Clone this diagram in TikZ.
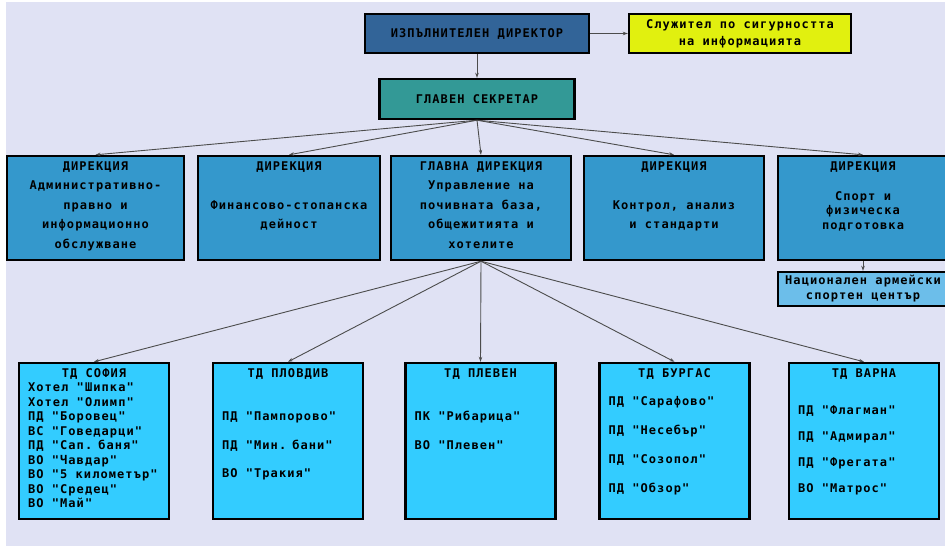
\documentclass[tikz,border=0pt]{standalone}
\usepackage{fontspec}
\newfontfamily\boxfont[LetterSpace=9, WordSpace={1.15,0,0}]{DejaVu Sans Mono}
\usetikzlibrary{arrows.meta}
\definecolor{bgcol}{RGB}{224,226,244}
\definecolor{execcol}{RGB}{50,100,152}
\definecolor{seccol}{RGB}{225,240,15}
\definecolor{secrcol}{RGB}{51,153,150}
\definecolor{dircol}{RGB}{52,152,204}
\definecolor{naccol}{RGB}{108,190,234}
\definecolor{tdcol}{RGB}{51,204,255}

\begin{document}
\begin{tikzpicture}[x=1pt, y=-1pt]
  \tikzset{
    box/.style={draw=black, line width=2.4pt, font=\boxfont\bfseries\fontsize{12}{14.5}\selectfont,
      execute at begin node={\spaceskip=8.3pt\relax}},
    dirbox/.style={box, fill=dircol, align=center, inner xsep=2pt, inner ysep=4pt,
      text height=10pt, text depth=86pt, font=\boxfont\bfseries\fontsize{12}{19.5}\selectfont},
    tdbox/.style={box, fill=tdcol, align=left, text width=132pt, inner xsep=9pt, inner ysep=4pt,
      text height=10pt, text depth=138pt},
    link/.style={->, line width=0.9pt, draw=black!70},
    >={Stealth[length=5pt, width=3.5pt]}
  }

  \useasboundingbox (0,0) rectangle (945,547);
  \fill[bgcol] (6,2) rectangle (945,546);

  % Ръководство
  \node[box, fill=execcol, minimum width=224pt, minimum height=39pt] (exec) at (477,33.5) {ИЗПЪЛНИТЕЛЕН ДИРЕКТОР};
  \node[box, fill=seccol, minimum width=222pt, minimum height=39pt, align=center,
    font=\boxfont\bfseries\fontsize{12}{17}\selectfont] (sec) at (740,33.5) {Служител по сигурността\\на информацията};
  \node[box, fill=secrcol, minimum width=195pt, minimum height=40pt] (secr) at (477,99) {ГЛАВЕН СЕКРЕТАР};

  % Дирекции
  \node[dirbox, text width=173pt] (d1) at (95.5,208) {ДИРЕКЦИЯ\\Административно-\\правно и\\информационно\\обслужване};
  \node[dirbox, text width=178pt] (d2) at (289,208) {ДИРЕКЦИЯ\\[19.5pt]Финансово-стопанска\\дейност};
  \node[dirbox, text width=176pt] (d3) at (481,208) {ГЛАВНА ДИРЕКЦИЯ\\Управление на\\почивната база,\\общежитията и\\хотелите};
  \node[dirbox, text width=176pt] (d4) at (674,208) {ДИРЕКЦИЯ\\[19.5pt]Контрол, анализ\\и стандарти};
  \node[dirbox, text width=166pt, font=\boxfont\bfseries\fontsize{12}{14.5}\selectfont] (d5) at (863,208) {ДИРЕКЦИЯ\\[15.5pt]Спорт и\\физическа\\подготовка};
  \node[box, fill=naccol, minimum width=170pt, minimum height=34pt, align=center,
    font=\boxfont\bfseries\fontsize{12}{15}\selectfont] (nac) at (863,289) {Национален армейски\\спортен център};

  % Териториални дирекции
  \node[tdbox] (td1) at (94,441) {\makebox[\linewidth]{ТД СОФИЯ}\\Хотел "Шипка"\\Хотел "Олимп"\\ПД "Боровец"\\ВС "Говедарци"\\ПД "Сап. баня"\\ВО "Чавдар"\\\mbox{ВО "5 километър"}\\ВО "Средец"\\ВО "Май"};
  \node[tdbox] (td2) at (288,441) {\makebox[\linewidth]{ТД ПЛОВДИВ}\\[29pt]ПД "Пампорово"\\[14pt]ПД "Мин. бани"\\[14pt]ВО "Тракия"};
  \node[tdbox] (td3) at (480.5,441) {\makebox[\linewidth]{ТД ПЛЕВЕН}\\[29pt]ПК "Рибарица"\\[14pt]ВО "Плевен"};
  \node[tdbox] (td4) at (674.5,441) {\makebox[\linewidth]{ТД БУРГАС}\\[13.5pt]ПД "Сарафово"\\[14.5pt]ПД "Несебър"\\[14.5pt]ПД "Созопол"\\[14.5pt]ПД "Обзор"};
  \node[tdbox] (td5) at (864,441) {\makebox[\linewidth]{ТД ВАРНА}\\[22.5pt]ПД "Флагман"\\[11.5pt]ПД "Адмирал"\\[11.5pt]ПД "Фрегата"\\[11.5pt]ВО "Матрос"};

  % Връзки
  \draw[link] (exec.east) -- (sec.west);
  \draw[link] (exec.south) -- (secr.north);
  \foreach \d in {d1,d2,d3,d4,d5}
    \draw[link] (secr.south) -- (\d.north);
  \draw[link] (d5.south) -- (nac.north);
  \foreach \t in {td1,td2,td3,td4,td5}
    \draw[link] (d3.south) -- (\t.north);
\end{tikzpicture}
\end{document}
